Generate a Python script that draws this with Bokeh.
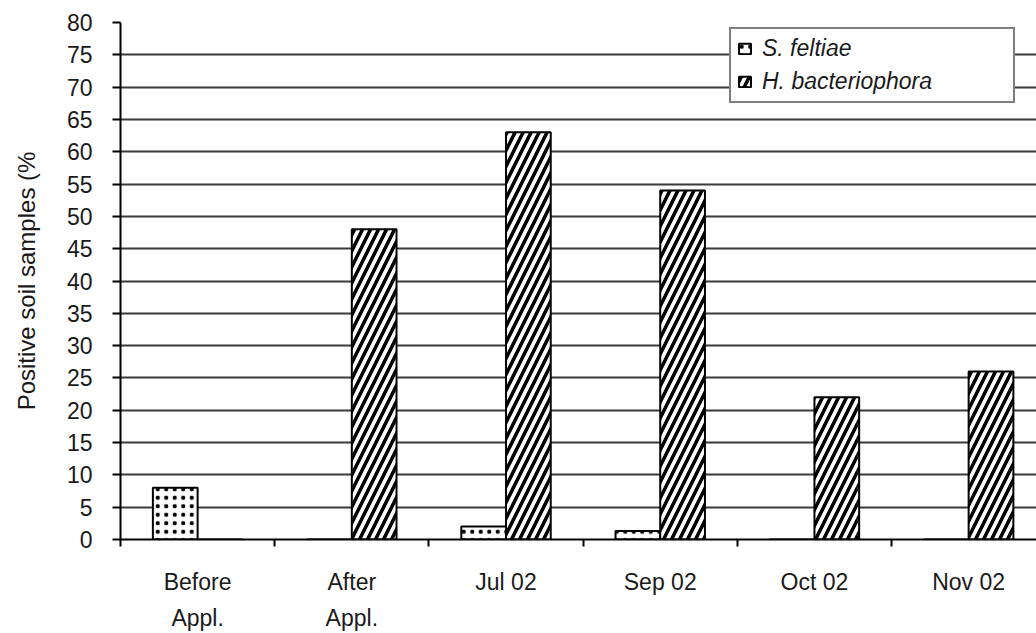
import math
from bokeh.plotting import figure
from bokeh.models import FixedTicker, Legend, LegendItem, ColumnDataSource, Range1d
from bokeh.embed import file_html
from bokeh.resources import INLINE

# ---- data ----
categories = ["Before\nAppl.", "After\nAppl.", "Jul 02", "Sep 02", "Oct 02", "Nov 02"]
s_feltiae = [8, 0, 2, 1.3, 0, 0]
h_bacteriophora = [0, 48, 63, 54, 22, 26]
y_ticks = list(range(0, 81, 5))
y_title = "Positive soil samples (%"
series_names = ["S. feltiae", "H. bacteriophora"]

FONT = "Liberation Sans"
BAR_W = 0.29

centers = [i + 0.5 for i in range(len(categories))]
src = ColumnDataSource(dict(
    xs=[c - BAR_W / 2 for c in centers],
    xh=[c + BAR_W / 2 for c in centers],
    s=s_feltiae,
    h=h_bacteriophora,
))

p = figure(width=1036, height=633, output_backend="svg", toolbar_location=None,
           x_range=Range1d(0, 5.94), y_range=Range1d(0, 80),
           min_border_left=120, min_border_right=0, min_border_top=22, min_border_bottom=91)
p.outline_line_color = None
p.background_fill_color = "white"
p.border_fill_color = "white"

r1 = p.vbar(x="xs", top="s", width=BAR_W, source=src, fill_color="white",
            line_color="black", line_width=2, hatch_pattern=".", hatch_color="black",
            hatch_scale=8.5, hatch_weight=1.3)
r2 = p.vbar(x="xh", top="h", width=BAR_W, source=src, fill_color="white",
            line_color="black", line_width=2, hatch_pattern="/", hatch_color="black",
            hatch_scale=16, hatch_weight=3.5)

# grid
p.xgrid.visible = False
p.ygrid.ticker = FixedTicker(ticks=y_ticks)
p.ygrid.grid_line_color = "#3a3a3a"
p.ygrid.grid_line_width = 2

# y axis
p.yaxis.ticker = FixedTicker(ticks=y_ticks)
p.yaxis.axis_line_color = "black"
p.yaxis.axis_line_width = 2
p.yaxis.major_tick_in = 0
p.yaxis.major_tick_out = 8
p.yaxis.major_tick_line_width = 2
p.yaxis.minor_tick_line_color = None
p.yaxis.major_label_standoff = 20
p.yaxis.major_label_text_font = FONT
p.yaxis.major_label_text_font_size = "23px"
p.yaxis.major_label_text_color = "#1a1a1a"
p.yaxis.axis_label = y_title
p.yaxis.axis_label_text_font = FONT
p.yaxis.axis_label_text_font_size = "24px"
p.yaxis.axis_label_text_font_style = "normal"
p.yaxis.axis_label_text_color = "#1a1a1a"
p.yaxis.axis_label_standoff = 24

# x axis
p.xaxis.ticker = FixedTicker(ticks=centers, minor_ticks=list(range(len(categories) + 1)))
p.xaxis.major_label_overrides = {c: lab for c, lab in zip(centers, categories)}
p.xaxis.axis_line_color = "black"
p.xaxis.axis_line_width = 2
p.xaxis.major_tick_in = 0
p.xaxis.major_tick_out = 0
p.xaxis.minor_tick_in = 0
p.xaxis.minor_tick_out = 7
p.xaxis.minor_tick_line_width = 2
p.xaxis.minor_tick_line_color = "black"
p.xaxis.major_label_standoff = 22
p.xaxis.major_label_text_font = FONT
p.xaxis.major_label_text_font_size = "23px"
p.xaxis.major_label_text_color = "#1a1a1a"
p.xaxis.major_label_text_line_height = 1.4

legend = Legend(items=[LegendItem(label=series_names[0], renderers=[r1]),
                       LegendItem(label=series_names[1], renderers=[r2])],
                location=(609, 436))
legend.label_text_font = FONT
legend.label_text_font_style = "italic"
legend.label_text_font_size = "23px"
legend.label_text_color = "#1a1a1a"
legend.glyph_height = 13
legend.glyph_width = 15
legend.label_width = 245
legend.label_height = 27
legend.label_standoff = 10
legend.padding = 6
legend.spacing = 6
legend.margin = 0
legend.border_line_color = "black"
legend.border_line_width = 2
legend.background_fill_color = "white"
legend.background_fill_alpha = 1
p.add_layout(legend)

open("out.html", "w").write(file_html(p, INLINE))
